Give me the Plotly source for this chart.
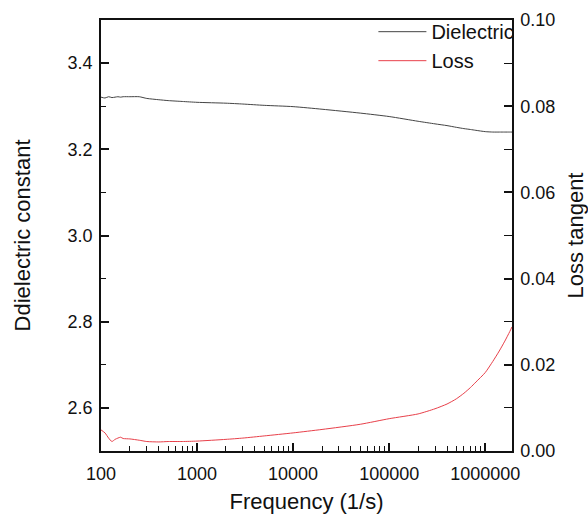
import plotly.graph_objects as go
import numpy as np

freq = [100, 110, 120, 130, 140, 150, 160, 170, 200, 250, 300, 400, 500, 700, 1000, 2000,
        3000, 5000, 10000, 20000, 50000, 100000, 200000, 300000, 400000, 500000, 600000,
        700000, 800000, 1000000, 1200000, 1400000, 1600000, 1800000, 1900000]

dielectric = [3.321, 3.319, 3.322, 3.320, 3.321, 3.322, 3.321, 3.322, 3.322, 3.322, 3.318,
              3.315, 3.313, 3.311, 3.309, 3.307, 3.305, 3.302, 3.299, 3.293, 3.284, 3.276,
              3.265, 3.259, 3.255, 3.251, 3.248, 3.246, 3.244, 3.241, 3.240, 3.240, 3.240,
              3.240, 3.240]

loss = [0.0049, 0.0042, 0.0030, 0.0022, 0.0027, 0.0030, 0.0032, 0.0029, 0.0028, 0.0025,
        0.0022, 0.0021, 0.0022, 0.0022, 0.0023, 0.0027, 0.0030, 0.0035, 0.0042, 0.0050,
        0.0062, 0.0075, 0.0086, 0.0098, 0.0109, 0.0121, 0.0134, 0.0147, 0.0160, 0.0182,
        0.0208, 0.0232, 0.0255, 0.0277, 0.0288]

x_ticks = [100, 1000, 10000, 100000, 1000000]
x_ticktext = ["100", "1000", "10000", "100000", "1000000"]
left_ticks = [2.6, 2.8, 3.0, 3.2, 3.4]
left_ticktext = ["2.6", "2.8", "3.0", "3.2", "3.4"]
right_ticks = [0.00, 0.02, 0.04, 0.06, 0.08, 0.10]
right_ticktext = ["0.00", "0.02", "0.04", "0.06", "0.08", "0.10"]

FONT = "Arial, Liberation Sans, sans-serif"
INK = "#111111"

x_minor = [m * 10 ** d for d in range(2, 7) for m in range(2, 10) if m * 10 ** d <= 1.9e6]

fig = go.Figure()
fig.add_trace(go.Scatter(x=freq, y=dielectric, mode="lines", name="Dielectric",
                         line=dict(color="#444444", width=1, shape="spline", smoothing=0.6)))
fig.add_trace(go.Scatter(x=freq, y=loss, mode="lines", name="Loss", yaxis="y2",
                         line=dict(color="#e8404a", width=1, shape="spline", smoothing=0.6)))

axis_common = dict(ticks="inside", ticklen=8, tickwidth=1.5, tickcolor=INK,
                   showline=True, linecolor=INK, linewidth=1.5, automargin=False,
                   showgrid=False, zeroline=False, tickfont=dict(size=18, color=INK))

Y_DOMAIN = [0, 431 / 451]

fig.update_layout(
    width=588, height=519,
    margin=dict(l=101, r=76, t=0, b=68),
    paper_bgcolor="white", plot_bgcolor="white",
    font=dict(family=FONT, size=18, color=INK),
    showlegend=True,
    legend=dict(x=1.018, xanchor="right", y=0.973, yanchor="top",
                bgcolor="rgba(0,0,0,0)", font=dict(size=20, color=INK),
                tracegroupgap=0, itemwidth=48),
    xaxis=dict(type="log", range=[2, np.log10(1.9e6)],
               tickvals=x_ticks, ticktext=x_ticktext, mirror=True,
               ticklabelstandoff=6,
               minor=dict(tickvals=x_minor, ticks="inside", ticklen=5,
                          tickwidth=1.2, tickcolor=INK, showgrid=False),
               title=dict(text="Frequency (1/s)", font=dict(size=22), standoff=10),
               **axis_common),
    yaxis=dict(range=[2.5, 3.5], domain=Y_DOMAIN, tickvals=left_ticks,
               ticktext=left_ticktext, ticklabelstandoff=3,
               minor=dict(tickvals=[2.7, 2.9, 3.1, 3.3], ticks="inside", ticklen=5,
                          tickwidth=1.2, tickcolor=INK, showgrid=False),
               title=dict(text="Ddielectric constant", font=dict(size=22), standoff=31),
               **axis_common),
    yaxis2=dict(range=[0, 0.1], domain=Y_DOMAIN, overlaying="y", side="right",
                tickvals=right_ticks, ticktext=right_ticktext, ticklabelstandoff=3,
                minor=dict(tickvals=[0.01, 0.03, 0.05, 0.07, 0.09], ticks="inside",
                           ticklen=8, tickwidth=1.2, tickcolor=INK, showgrid=False),
                title=dict(text="Loss tangent", font=dict(size=22), standoff=15),
                **axis_common),
)

fig.write_html("out.html")
